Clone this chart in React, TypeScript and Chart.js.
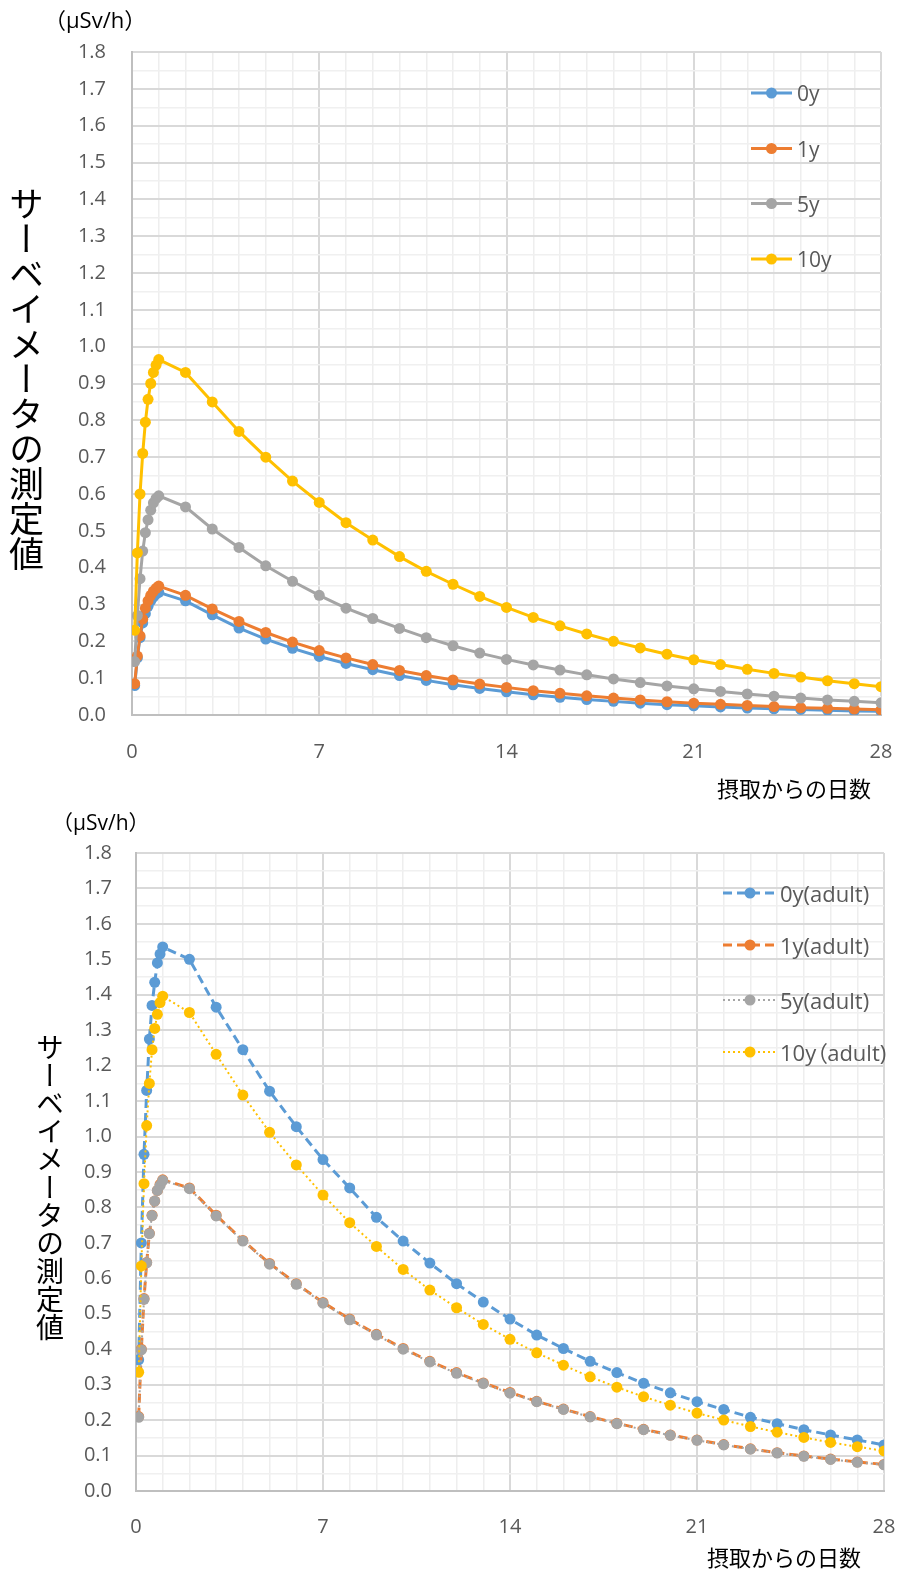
import React, { useEffect, useRef } from 'react';
import { Chart, registerables } from 'chart.js';

Chart.register(...registerables);

// ---------- data ----------
const DAYS = [0.1, 0.2, 0.3, 0.4, 0.5, 0.6, 0.7, 0.8, 0.9, 1, 2, 3, 4, 5, 6, 7, 8, 9, 10, 11, 12, 13, 14, 15, 16, 17, 18, 19, 20, 21, 22, 23, 24, 25, 26, 27, 28];
const X_LABEL_DAYS = [0, 7, 14, 21, 28];
const Y_MAX = 1.8;

// upper chart
const LABELS_TOP = ['0y', '1y', '5y', '10y'];
const TOP_0Y = [0.08, 0.155, 0.21, 0.25, 0.275, 0.295, 0.31, 0.32, 0.328, 0.333, 0.31, 0.272, 0.236, 0.206, 0.181, 0.159, 0.14, 0.123, 0.107, 0.094, 0.082, 0.072, 0.063, 0.055, 0.048, 0.042, 0.037, 0.032, 0.028, 0.025, 0.022, 0.019, 0.017, 0.015, 0.013, 0.011, 0.01];
const TOP_1Y = [0.085, 0.16, 0.215, 0.26, 0.29, 0.31, 0.325, 0.336, 0.344, 0.35, 0.325, 0.288, 0.254, 0.224, 0.198, 0.175, 0.155, 0.137, 0.121, 0.107, 0.095, 0.084, 0.075, 0.066, 0.059, 0.052, 0.046, 0.041, 0.036, 0.032, 0.029, 0.026, 0.023, 0.02, 0.018, 0.016, 0.014];
const TOP_5Y = [0.145, 0.27, 0.37, 0.445, 0.495, 0.53, 0.556, 0.576, 0.588, 0.595, 0.565, 0.505, 0.455, 0.405, 0.363, 0.325, 0.29, 0.262, 0.235, 0.21, 0.188, 0.168, 0.151, 0.136, 0.122, 0.109, 0.098, 0.088, 0.079, 0.071, 0.064, 0.057, 0.051, 0.046, 0.041, 0.037, 0.033];
const TOP_10Y = [0.23, 0.44, 0.6, 0.71, 0.795, 0.857, 0.9, 0.93, 0.95, 0.965, 0.93, 0.85, 0.77, 0.7, 0.635, 0.577, 0.522, 0.475, 0.43, 0.39, 0.355, 0.322, 0.292, 0.265, 0.242, 0.22, 0.2, 0.182, 0.165, 0.15, 0.137, 0.124, 0.113, 0.103, 0.093, 0.085, 0.077];

// lower chart
const LABELS_BOTTOM = ['0y(adult)', '1y(adult)', '5y(adult)', '10y（adult)'];
const BOT_0Y = [0.37, 0.7, 0.95, 1.13, 1.275, 1.37, 1.435, 1.49, 1.515, 1.535, 1.5, 1.365, 1.245, 1.128, 1.028, 0.935, 0.855, 0.772, 0.705, 0.643, 0.585, 0.533, 0.485, 0.44, 0.402, 0.366, 0.334, 0.304, 0.277, 0.252, 0.23, 0.208, 0.19, 0.173, 0.158, 0.144, 0.13];
const BOT_1Y = [0.21, 0.4, 0.543, 0.645, 0.727, 0.778, 0.818, 0.848, 0.865, 0.878, 0.855, 0.778, 0.707, 0.642, 0.585, 0.532, 0.485, 0.442, 0.402, 0.366, 0.334, 0.305, 0.278, 0.253, 0.231, 0.21, 0.191, 0.174, 0.158, 0.144, 0.131, 0.119, 0.108, 0.099, 0.09, 0.082, 0.075];
const BOT_5Y = [0.208, 0.398, 0.541, 0.644, 0.726, 0.777, 0.818, 0.848, 0.862, 0.876, 0.853, 0.776, 0.705, 0.64, 0.583, 0.53, 0.483, 0.44, 0.4, 0.364, 0.332, 0.303, 0.276, 0.252, 0.23, 0.209, 0.19, 0.173, 0.157, 0.143, 0.13, 0.118, 0.107, 0.098, 0.089, 0.081, 0.074];
const BOT_10Y = [0.335, 0.635, 0.867, 1.031, 1.15, 1.245, 1.305, 1.345, 1.378, 1.396, 1.35, 1.232, 1.117, 1.012, 0.92, 0.835, 0.757, 0.69, 0.625, 0.567, 0.517, 0.47, 0.428, 0.39, 0.355, 0.322, 0.293, 0.266, 0.242, 0.22, 0.2, 0.182, 0.166, 0.151, 0.137, 0.125, 0.113];

const COLORS = ['#5B9BD5', '#ED7D31', '#A5A5A5', '#FFC000'];
const TICK_COLOR = '#595959';
const FONT = "'Open Sans', 'Noto Sans CJK JP', sans-serif";
const CJK = "'Noto Sans CJK JP', sans-serif";
const X_AXIS_H = 70;

// ---------- legend sample plugin (line + marker) ----------
const sideLegend = {
  id: 'sideLegend',
  afterDraw(chart: any, _args: any, opts: any) {
    const ctx = chart.ctx;
    ctx.save();
    chart.data.datasets.forEach((ds: any, i: number) => {
      const y = opts.ys[i];
      ctx.strokeStyle = ds.borderColor;
      ctx.lineWidth = ds.borderWidth;
      ctx.setLineDash(ds.borderDash || []);
      ctx.beginPath();
      ctx.moveTo(opts.x0, y);
      ctx.lineTo(opts.x1, y);
      ctx.stroke();
      ctx.setLineDash([]);
      ctx.fillStyle = ds.borderColor;
      ctx.beginPath();
      ctx.arc((opts.x0 + opts.x1) / 2, y, ds.pointRadius, 0, Math.PI * 2);
      ctx.fill();
    });
    ctx.restore();
  },
};

type Spec = {
  top: number;
  height: number;
  plotLeft: number;
  plotRight: number;
  plotTop: number;
  plotBottom: number;
  yPad: number;
  xPad: number;
  labels: string[];
  series: number[][];
  dashes: number[][];
  widths: number[];
  radius: number;
  legend: { x0: number; x1: number; tx: number; ys: number[]; size: number };
};

function isMultiple(v: number, step: number) {
  const q = v / step;
  return Math.abs(q - Math.round(q)) < 1e-6;
}

function LineChart({ spec }: { spec: Spec }) {
  const ref = useRef<HTMLCanvasElement>(null);
  useEffect(() => {
    const datasets = spec.series.map((s, i) => ({
      label: spec.labels[i],
      data: s.map((v, j) => ({ x: DAYS[j], y: v })),
      borderColor: COLORS[i],
      backgroundColor: COLORS[i],
      pointBackgroundColor: COLORS[i],
      pointBorderWidth: 0,
      pointRadius: spec.radius,
      borderWidth: spec.widths[i],
      borderDash: spec.dashes[i],
      tension: 0,
      order: spec.series.length - i,
    }));
    const chart = new Chart(ref.current!, {
      type: 'line',
      data: { datasets },
      plugins: [sideLegend],
      options: {
        responsive: false,
        maintainAspectRatio: false,
        animation: false,
        events: [],
        layout: {
          padding: {
            left: 0,
            top: spec.plotTop,
            right: 898 - spec.plotRight,
            bottom: spec.height - spec.plotBottom - X_AXIS_H,
          },
        },
        plugins: {
          legend: { display: false },
          tooltip: { enabled: false },
          sideLegend: spec.legend,
        } as any,
        scales: {
          x: {
            type: 'linear',
            min: 0,
            max: 28,
            afterFit: (s: any) => {
              s.height = X_AXIS_H;
              s.paddingLeft = 0;
              s.paddingRight = 0;
            },
            ticks: {
              stepSize: 1,
              autoSkip: false,
              maxRotation: 0,
              padding: spec.xPad,
              color: TICK_COLOR,
              font: { family: FONT, size: 20 },
              callback: (v: any) => (X_LABEL_DAYS.includes(Math.round(Number(v))) && isMultiple(Number(v), 1) ? String(Math.round(Number(v))) : ''),
            },
            grid: {
              drawTicks: false,
              color: (c: any) => (c.tick && isMultiple(c.tick.value, 7) ? '#d9d9d9' : '#eeeeee'),
              lineWidth: (c: any) => (c.tick && isMultiple(c.tick.value, 7) ? 2 : 1.5),
            },
            border: { color: '#bfbfbf', width: 2 },
          },
          y: {
            type: 'linear',
            min: 0,
            max: Y_MAX,
            afterFit: (s: any) => { s.width = spec.plotLeft; },
            ticks: {
              stepSize: 0.05,
              autoSkip: false,
              padding: spec.yPad,
              color: TICK_COLOR,
              font: { family: FONT, size: 20 },
              callback: (v: any) => {
                const n = Math.round(Number(v) * 100);
                return n % 10 === 0 ? (n / 100).toFixed(1) : '';
              },
            },
            grid: {
              drawTicks: false,
              color: (c: any) => (c.tick && Math.round(c.tick.value * 100) % 10 === 0 ? '#d9d9d9' : '#f0f0f0'),
              lineWidth: (c: any) => (c.tick && Math.round(c.tick.value * 100) % 10 === 0 ? 2 : 1.5),
            },
            border: { color: '#bfbfbf', width: 2 },
          },
        },
      } as any,
    });
    return () => chart.destroy();
  }, []);
  const lg = spec.legend;
  return (
    <>
      <canvas
        ref={ref}
        width={898}
        height={spec.height}
        style={{ position: 'absolute', left: 0, top: spec.top, width: 898, height: spec.height }}
      />
      {spec.labels.map((t, i) => (
        <div
          key={t}
          style={{
            position: 'absolute',
            left: lg.tx,
            top: spec.top + lg.ys[i] - 15,
            height: 30,
            lineHeight: '30px',
            fontFamily: FONT,
            fontSize: lg.size,
            color: TICK_COLOR,
            whiteSpace: 'nowrap',
            fontFeatureSettings: "'palt'",
          }}
        >
          {t}
        </div>
      ))}
    </>
  );
}

const topSpec: Spec = {
  top: 0,
  height: 800,
  plotLeft: 132,
  plotRight: 881,
  plotTop: 52,
  plotBottom: 715,
  yPad: 26,
  xPad: 25,
  labels: LABELS_TOP,
  series: [TOP_0Y, TOP_1Y, TOP_5Y, TOP_10Y],
  dashes: [[], [], [], []],
  widths: [3, 3, 3, 3],
  radius: 5.5,
  legend: { x0: 751, x1: 792, tx: 797, ys: [93, 148.5, 203.5, 259], size: 21 },
};

const bottomSpec: Spec = {
  top: 800,
  height: 773,
  plotLeft: 136,
  plotRight: 884,
  plotTop: 53,
  plotBottom: 691,
  yPad: 24,
  xPad: 24,
  labels: LABELS_BOTTOM,
  series: [BOT_0Y, BOT_1Y, BOT_5Y, BOT_10Y],
  dashes: [[9, 5], [9, 5], [2, 3], [2, 3]],
  widths: [3, 3, 2, 2],
  radius: 5.5,
  legend: { x0: 723, x1: 777, tx: 780, ys: [93, 145, 200, 252], size: 22 },
};

export default function App() {
  const abs = (o: React.CSSProperties): React.CSSProperties => ({ position: 'absolute', margin: 0, whiteSpace: 'nowrap', ...o });
  return (
    <div style={{ position: 'absolute', left: 0, top: 0, width: 898, height: 1573, background: '#fff', overflow: 'hidden' }}>
      <LineChart spec={topSpec} />
      <LineChart spec={bottomSpec} />
      {/* upper chart texts */}
      <div style={abs({ left: 44, top: 4, fontFamily: FONT, fontSize: 22, lineHeight: '30px', color: '#000' })}>（μSv/h）</div>
      <div style={abs({ left: 9, top: 186, fontFamily: CJK, fontSize: 35, lineHeight: '35px', color: '#000', writingMode: 'vertical-rl', textOrientation: 'upright' })}>サーベイメータの測定値</div>
      <div style={abs({ left: 717, top: 773, fontFamily: CJK, fontSize: 22, lineHeight: '28px', color: '#000' })}>摂取からの日数</div>
      {/* lower chart texts */}
      <div style={abs({ left: 52, top: 808, fontFamily: FONT, fontSize: 21, lineHeight: '28px', color: '#000' })}>（μSv/h）</div>
      <div style={abs({ left: 36, top: 1033, fontFamily: CJK, fontSize: 28, lineHeight: '28px', color: '#000', writingMode: 'vertical-rl', textOrientation: 'upright' })}>サーベイメータの測定値</div>
      <div style={abs({ left: 707, top: 1542, fontFamily: CJK, fontSize: 22, lineHeight: '28px', color: '#000' })}>摂取からの日数</div>
    </div>
  );
}
